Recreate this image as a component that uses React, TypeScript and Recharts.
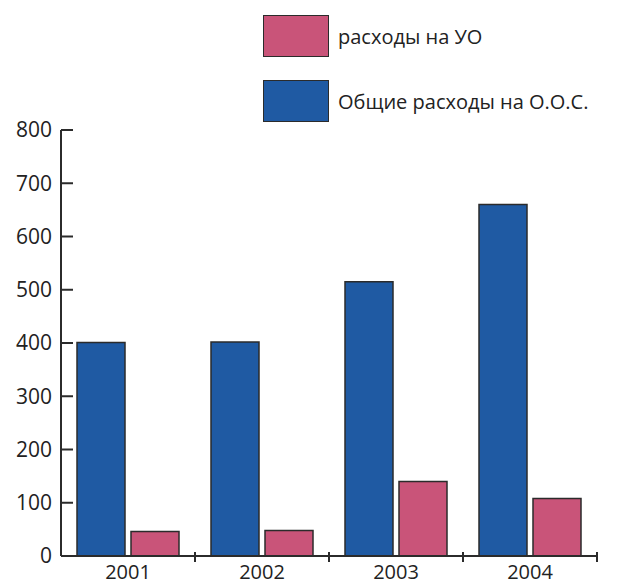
import { BarChart, Bar, XAxis, YAxis } from 'recharts';

const years = ['2001', '2002', '2003', '2004'];
const totalCosts = [401, 402, 515, 660];
const uoCosts = [46, 48, 140, 108];
const yTicks = [0, 100, 200, 300, 400, 500, 600, 700, 800];

const series = [
  { key: 'uo', name: 'расходы на УО', color: '#c95479' },
  { key: 'total', name: 'Общие расходы на О.О.С.', color: '#1f5aa3' },
];

const data = years.map((year, i) => ({ year, total: totalCosts[i], uo: uoCosts[i] }));

const FONT = '"Open Sans", sans-serif';
const INK = '#2b2b2b';

// category label + an upward tick on the right edge of each category
function YearTick(props: any) {
  const { x, y, payload, width, visibleTicksCount } = props;
  const half = payload?.offset || width / (visibleTicksCount * 2);
  const axisY = y - 3;
  return (
    <g>
      <line x1={x + half} x2={x + half} y1={axisY} y2={axisY - 10} stroke={INK} strokeWidth={2} />
      <text x={x} y={y} dy="0.71em" textAnchor="middle" fill="#222" fontSize={20} fontFamily={FONT}>
        {payload.value}
      </text>
    </g>
  );
}

export default function App() {
  return (
    <div style={{ position: 'absolute', left: 0, top: 0, width: 617, height: 585, background: '#fff' }}>
      <BarChart
        width={617}
        height={585}
        data={data}
        margin={{ top: 130, right: 20, bottom: 0, left: 8 }}
        barCategoryGap={16}
        barGap={6}
      >
        <XAxis
          dataKey="year"
          height={29}
          axisLine={{ stroke: INK, strokeWidth: 2 }}
          tickLine={false}
          tickMargin={3}
          tick={<YearTick />}
          interval={0}
        />
        <YAxis
          width={53}
          domain={[0, 800]}
          ticks={yTicks}
          interval={0}
          axisLine={{ stroke: INK, strokeWidth: 2 }}
          tickLine={{ stroke: INK, strokeWidth: 2 }}
          tickSize={-12}
          tickMargin={21}
          tick={{ fill: '#222', fontSize: 21, fontFamily: FONT }}
        />
        <Bar dataKey="total" fill="#1f5aa3" stroke={INK} strokeWidth={1.5} isAnimationActive={false} />
        <Bar dataKey="uo" fill="#c95479" stroke={INK} strokeWidth={1.5} isAnimationActive={false} />
      </BarChart>
      <div style={{ position: 'absolute', left: 263, top: 15, fontFamily: FONT }}>
        {series.map((s) => (
          <div key={s.key} style={{ display: 'flex', alignItems: 'center', height: 42, marginBottom: 23 }}>
            <div
              style={{
                width: 64,
                height: 40,
                background: s.color,
                border: `1.5px solid ${INK}`,
                marginRight: 9,
              }}
            />
            <span style={{ fontSize: 20, color: '#222', whiteSpace: 'nowrap' }}>{s.name}</span>
          </div>
        ))}
      </div>
    </div>
  );
}
